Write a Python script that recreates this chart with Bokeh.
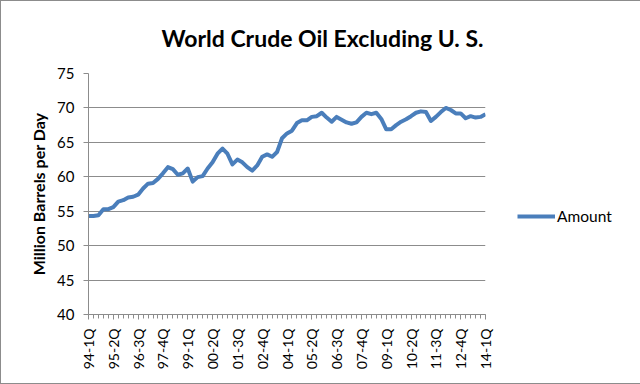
import math
from bokeh.plotting import figure
from bokeh.models import FixedTicker, Legend, LegendItem, ColumnDataSource
from bokeh.embed import file_html
from bokeh.resources import INLINE

tick_labels = ["94-1Q", "95-2Q", "96-3Q", "97-4Q", "99-1Q", "00-2Q", "01-3Q", "02-4Q",
               "04-1Q", "05-2Q", "06-3Q", "07-4Q", "09-1Q", "10-2Q", "11-3Q", "12-4Q", "14-1Q"]
label_every = 5  # one labelled quarter out of five

amount = [54.3, 54.3, 54.4, 55.3, 55.3, 55.6, 56.4, 56.6, 57.0, 57.1,
          57.4, 58.3, 59.0, 59.1, 59.7, 60.5, 61.4, 61.1, 60.3, 60.5,
          61.2, 59.3, 59.95, 60.1, 61.2, 62.1, 63.35, 64.1, 63.35, 61.8,
          62.5, 62.1, 61.4, 60.9, 61.65, 62.9, 63.25, 62.9, 63.6, 65.6,
          66.3, 66.7, 67.8, 68.2, 68.2, 68.7, 68.8, 69.3, 68.6, 68.0,
          68.7, 68.3, 67.9, 67.7, 67.9, 68.7, 69.3, 69.1, 69.3, 68.4,
          66.9, 66.9, 67.5, 68.0, 68.35, 68.8, 69.3, 69.5, 69.4, 68.1,
          68.7, 69.4, 70.0, 69.7, 69.2, 69.2, 68.5, 68.8, 68.6, 68.7, 69.1]

y_ticks = [40, 45, 50, 55, 60, 65, 70, 75]

quarter_idx = list(range(len(amount)))
src = ColumnDataSource(dict(q=quarter_idx, amount=amount))

FONT = "Lato"
GRID = "#8c8c8c"
BLUE = "#4a7ebb"

p = figure(width=640, height=384, frame_width=397, frame_height=241,
           output_backend="svg", toolbar_location=None,
           x_range=(0, len(amount) - 1), y_range=(y_ticks[0], y_ticks[-1]),
           min_border_left=88, min_border_right=155, min_border_top=73, min_border_bottom=70,
           title="World Crude Oil Excluding U. S.")
p.styles = {"box-shadow": "inset 0 0 0 1px #8c8c8c", "background-color": "white"}

p.title.align = "left"
p.title.offset = 73
p.title.text_font = FONT
p.title.text_font_style = "bold"
p.title.text_font_size = "23px"
p.title.text_color = "black"
p.title.standoff = 43

p.outline_line_color = None
p.background_fill_color = "white"
p.border_fill_color = None

# grid
p.xgrid.grid_line_color = None
p.ygrid.grid_line_color = GRID
p.ygrid.grid_line_width = 1
p.ygrid.ticker = FixedTicker(ticks=y_ticks)

# y axis
p.yaxis.ticker = FixedTicker(ticks=y_ticks)
p.yaxis.axis_line_color = GRID
p.yaxis.major_tick_line_color = GRID
p.yaxis.major_tick_out = 5
p.yaxis.major_tick_in = 0
p.yaxis.minor_tick_line_color = None
p.yaxis.major_label_text_font = FONT
p.yaxis.major_label_text_font_size = "15px"
p.yaxis.major_label_text_color = "black"
p.yaxis.major_label_standoff = 9
p.yaxis.axis_label = "Million Barrels per Day"
p.yaxis.axis_label_text_font = FONT
p.yaxis.axis_label_text_font_style = "bold"
p.yaxis.axis_label_text_font_size = "16px"
p.yaxis.axis_label_text_color = "black"
p.yaxis.axis_label_standoff = 6

# x axis
major = list(range(0, len(amount), label_every))
p.xaxis.ticker = FixedTicker(ticks=major, minor_ticks=quarter_idx)
p.xaxis.major_label_overrides = {m: lab for m, lab in zip(major, tick_labels)}
p.xaxis.major_label_orientation = math.pi / 2
p.xaxis.axis_line_color = GRID
p.xaxis.major_tick_line_color = GRID
p.xaxis.minor_tick_line_color = GRID
p.xaxis.major_tick_out = 5
p.xaxis.major_tick_in = 0
p.xaxis.minor_tick_out = 4
p.xaxis.minor_tick_in = 0
p.xaxis.major_label_text_font = FONT
p.xaxis.major_label_text_font_size = "14px"
p.xaxis.major_label_text_color = "black"
p.xaxis.major_label_standoff = 9

line = p.line("q", "amount", source=src, line_color=BLUE, line_width=4, line_join="round")

legend = Legend(items=[LegendItem(label="Amount", renderers=[line])],
                location=(32, 88), glyph_width=38, glyph_height=20,
                label_standoff=2, padding=0, margin=0, spacing=0,
                border_line_color=None, background_fill_alpha=0,
                label_text_font=FONT, label_text_font_size="15.5px", label_text_color="black")
p.add_layout(legend, "right")

open("out.html", "w").write(file_html(p, INLINE))
